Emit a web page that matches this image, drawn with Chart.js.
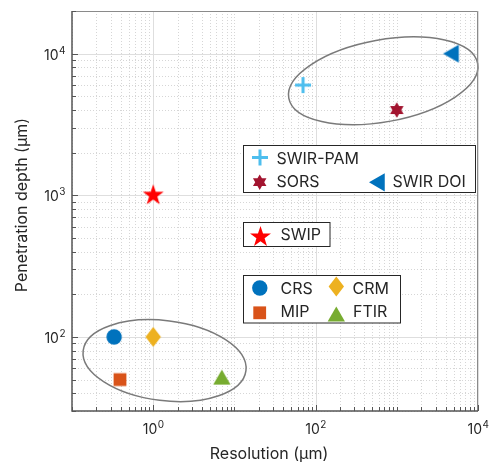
<!DOCTYPE html>
<html lang="en">
<head>
<meta charset="UTF-8">
<title>Penetration depth vs resolution</title>
<script src="https://cdn.jsdelivr.net/npm/chart.js"></script>
<style>
  body { margin: 0; background: #fff; }
  canvas { display: block; }
</style>
</head>
<body>
<canvas id="chart" width="489" height="462"></canvas>
<script>
// data (µm)
const methods    = ['CRS', 'CRM', 'MIP', 'FTIR', 'SWIP', 'SWIR-PAM', 'SORS', 'SWIR DOI'];
const resolution = [0.33, 1, 0.39, 7, 1, 70, 1000, 5000];
const depth      = [100, 100, 50, 50, 1000, 6000, 4000, 10000];
const xTickExp   = [0, 2, 4];
const yTickExp   = [2, 3, 4];
const xRange     = [0.1, 10000];
const yRange     = [30, 20000];

const markerKind = {
  'CRS': 'circle', 'CRM': 'diamond', 'MIP': 'square', 'FTIR': 'triUp',
  'SWIP': 'star5', 'SWIR-PAM': 'plus', 'SORS': 'hexagram', 'SWIR DOI': 'triLeft'
};
const markerColor = {
  'CRS': '#0072BD', 'CRM': '#EDB120', 'MIP': '#D95319', 'FTIR': '#77AC30',
  'SWIP': '#FF0000', 'SWIR-PAM': '#4DBEEE', 'SORS': '#A2142F', 'SWIR DOI': '#0072BD'
};

const FONT = 'Inter, "Noto Sans", sans-serif';
const TEXT = '#262626';

function drawMarker(ctx, kind, color, x, y) {
  ctx.save();
  ctx.translate(x, y);
  ctx.fillStyle = color;
  ctx.strokeStyle = color;
  ctx.beginPath();
  if (kind === 'circle') {
    ctx.arc(0, 0, 7.7, 0, Math.PI * 2);
  } else if (kind === 'square') {
    ctx.rect(-6.4, -6.4, 12.8, 12.8);
  } else if (kind === 'diamond') {
    ctx.moveTo(0, -10); ctx.lineTo(7.7, 0); ctx.lineTo(0, 10); ctx.lineTo(-7.7, 0);
  } else if (kind === 'triUp' || kind === 'triLeft') {
    let r = kind === 'triUp' ? 10 : 10.5;
    let a0 = kind === 'triUp' ? -90 : 180;
    for (let k = 0; k < 3; k++) {
      let a = (a0 + k * 120) * Math.PI / 180;
      k ? ctx.lineTo(r * Math.cos(a), r * Math.sin(a)) : ctx.moveTo(r * Math.cos(a), r * Math.sin(a));
    }
  } else if (kind === 'star5') {
    let R = 11, r = 4.3;
    for (let k = 0; k < 10; k++) {
      let a = (-90 + k * 36) * Math.PI / 180;
      let rr = k % 2 ? r : R;
      k ? ctx.lineTo(rr * Math.cos(a), rr * Math.sin(a)) : ctx.moveTo(rr * Math.cos(a), rr * Math.sin(a));
    }
  } else if (kind === 'hexagram') {
    let R = 7.8, r = 4.5;
    for (let k = 0; k < 12; k++) {
      let a = (-90 + k * 30) * Math.PI / 180;
      let rr = k % 2 ? r : R;
      k ? ctx.lineTo(rr * Math.cos(a), rr * Math.sin(a)) : ctx.moveTo(rr * Math.cos(a), rr * Math.sin(a));
    }
  } else if (kind === 'plus') {
    ctx.lineWidth = 3;
    ctx.moveTo(-8, 0); ctx.lineTo(8, 0);
    ctx.moveTo(0, -8); ctx.lineTo(0, 8);
    ctx.stroke();
    ctx.restore();
    return;
  }
  ctx.closePath();
  ctx.fill();
  ctx.restore();
}

function markerImage(name) {
  let c = document.createElement('canvas');
  c.width = 30; c.height = 30;
  drawMarker(c.getContext('2d'), markerKind[name], markerColor[name], 15, 15);
  return c;
}

// ellipses around the two groups (centre in data units, radii in px)
const groups = [
  { cx: 1.38, cy: 68,   rx: 82, ry: 40, rot: 7 },
  { cx: 680,  cy: 6430, rx: 96, ry: 41, rot: -10.4 }
];

// legend boxes: [x, y, w, h], items: [name, marker x, marker y, text x, text y]
const legends = [
  { box: [243.5, 145.5, 232, 47], items: [
    ['SWIR-PAM', 260, 157.5, 276.5, 159],
    ['SORS', 259.7, 182.2, 276.5, 182.5],
    ['SWIR DOI', 379.5, 182.3, 392.5, 182.5] ] },
  { box: [243.5, 222.5, 86.5, 24], items: [
    ['SWIP', 260.5, 237, 280.5, 235.5] ] },
  { box: [243.5, 275.5, 157, 47.5], items: [
    ['CRS', 259.8, 288, 280.5, 289],
    ['CRM', 336.3, 286.5, 352.5, 289],
    ['MIP', 259.7, 312.8, 280.5, 312.5],
    ['FTIR', 336.3, 316.5, 353, 312.5] ] }
];

function logValues(lo, hi) {
  let out = [];
  for (let e = Math.floor(Math.log10(lo)); e <= Math.ceil(Math.log10(hi)); e++) {
    for (let m = 1; m <= 9; m++) {
      let v = m * Math.pow(10, e);
      if (v >= lo * 0.999 && v <= hi * 1.001) out.push({ v: v, e: e, m: m });
    }
  }
  return out;
}

function powerLabel(ctx, exp, x, y, align) {
  ctx.font = '14px ' + FONT;
  let w1 = ctx.measureText('10').width;
  ctx.font = '10px ' + FONT;
  let w2 = ctx.measureText(String(exp)).width;
  let left = align === 'right' ? x - w1 - w2 : x - (w1 + w2) / 2;
  ctx.textAlign = 'left';
  ctx.textBaseline = 'alphabetic';
  ctx.font = '14px ' + FONT;
  ctx.fillText('10', left, y);
  ctx.font = '10px ' + FONT;
  ctx.fillText(String(exp), left + w1 + 0.5, y - 6);
}

const frame = {
  id: 'frame',
  beforeDatasetsDraw(chart) {
    const { ctx, chartArea: a, scales: { x, y } } = chart;
    ctx.save();
    ctx.lineWidth = 1;
    logValues(xRange[0], xRange[1]).forEach(t => {
      let px = Math.round(x.getPixelForValue(t.v)) + 0.5;
      let major = t.m === 1 && xTickExp.includes(t.e);
      ctx.strokeStyle = major ? '#dedede' : '#d6d6d6';
      ctx.setLineDash(major ? [] : [1, 2]);
      ctx.beginPath(); ctx.moveTo(px, a.top); ctx.lineTo(px, a.bottom); ctx.stroke();
    });
    logValues(yRange[0], yRange[1]).forEach(t => {
      let py = Math.round(y.getPixelForValue(t.v)) + 0.5;
      let major = t.m === 1 && yTickExp.includes(t.e);
      ctx.strokeStyle = major ? '#dedede' : '#d6d6d6';
      ctx.setLineDash(major ? [] : [1, 2]);
      ctx.beginPath(); ctx.moveTo(a.left, py); ctx.lineTo(a.right, py); ctx.stroke();
    });
    ctx.setLineDash([]);
    ctx.strokeStyle = '#7a7a7a';
    ctx.lineWidth = 1.5;
    groups.forEach(g => {
      ctx.beginPath();
      ctx.ellipse(x.getPixelForValue(g.cx), y.getPixelForValue(g.cy), g.rx, g.ry,
        g.rot * Math.PI / 180, 0, Math.PI * 2);
      ctx.stroke();
    });
    ctx.restore();
  },
  afterDraw(chart) {
    const { ctx, chartArea: a, scales: { x, y } } = chart;
    ctx.save();
    // box
    ctx.strokeStyle = '#8a8a8a';
    ctx.lineWidth = 1;
    ctx.beginPath();
    ctx.moveTo(a.left, a.top + 0.5); ctx.lineTo(a.right - 0.5, a.top + 0.5); ctx.lineTo(a.right - 0.5, a.bottom);
    ctx.stroke();
    ctx.strokeStyle = '#555';
    ctx.lineWidth = 1.5;
    ctx.beginPath();
    ctx.moveTo(a.left, a.top); ctx.lineTo(a.left, a.bottom); ctx.lineTo(a.right, a.bottom);
    ctx.stroke();
    // ticks
    ctx.lineWidth = 1;
    ctx.strokeStyle = '#555';
    logValues(xRange[0], xRange[1]).forEach(t => {
      let px = Math.round(x.getPixelForValue(t.v)) + 0.5;
      let len = (t.m === 1 && xTickExp.includes(t.e)) ? 6 : 4;
      ctx.beginPath(); ctx.moveTo(px, a.bottom); ctx.lineTo(px, a.bottom - len); ctx.stroke();
    });
    logValues(yRange[0], yRange[1]).forEach(t => {
      let py = Math.round(y.getPixelForValue(t.v)) + 0.5;
      let len = (t.m === 1 && yTickExp.includes(t.e)) ? 6 : 4;
      ctx.beginPath(); ctx.moveTo(a.left, py); ctx.lineTo(a.left + len, py); ctx.stroke();
    });
    // tick labels
    ctx.fillStyle = TEXT;
    xTickExp.forEach(e => powerLabel(ctx, e, x.getPixelForValue(Math.pow(10, e)), a.bottom + 23, 'center'));
    yTickExp.forEach(e => powerLabel(ctx, e, a.left - 7, y.getPixelForValue(Math.pow(10, e)) + 6, 'right'));
    // axis titles
    ctx.font = '16px ' + FONT;
    ctx.textAlign = 'center';
    ctx.textBaseline = 'alphabetic';
    ctx.fillText('Resolution (\u03bcm)', (a.left + a.right) / 2 - 6, 459);
    ctx.save();
    ctx.translate(27, (a.top + a.bottom) / 2 - 6);
    ctx.rotate(-Math.PI / 2);
    ctx.fillText('Penetration depth (\u03bcm)', 0, 0);
    ctx.restore();
    // legend boxes
    legends.forEach(lg => {
      let [bx, by, bw, bh] = lg.box;
      ctx.fillStyle = '#fff';
      ctx.fillRect(bx, by, bw, bh);
      ctx.strokeStyle = '#262626';
      ctx.lineWidth = 1;
      ctx.strokeRect(bx, by, bw, bh);
      lg.items.forEach(([name, mx, my, tx, ty]) => {
        drawMarker(ctx, markerKind[name], markerColor[name], mx, my);
        ctx.fillStyle = TEXT;
        ctx.font = '16px ' + FONT;
        ctx.textAlign = 'left';
        ctx.textBaseline = 'middle';
        ctx.fillText(name, tx, ty);
      });
    });
    ctx.restore();
  }
};

new Chart(document.getElementById('chart'), {
  type: 'scatter',
  data: {
    datasets: methods.map((m, i) => ({
      label: m,
      data: [{ x: resolution[i], y: depth[i] }],
      pointStyle: markerImage(m),
      pointRadius: 10,
      pointHoverRadius: 10
    }))
  },
  options: {
    responsive: false,
    animation: false,
    events: [],
    layout: { padding: { left: 72, right: 8, top: 11, bottom: 51 } },
    plugins: { legend: { display: false }, tooltip: { enabled: false } },
    scales: {
      x: { type: 'logarithmic', min: xRange[0], max: xRange[1], display: false },
      y: { type: 'logarithmic', min: yRange[0], max: yRange[1], display: false }
    }
  },
  plugins: [frame]
});
</script>
</body>
</html>
